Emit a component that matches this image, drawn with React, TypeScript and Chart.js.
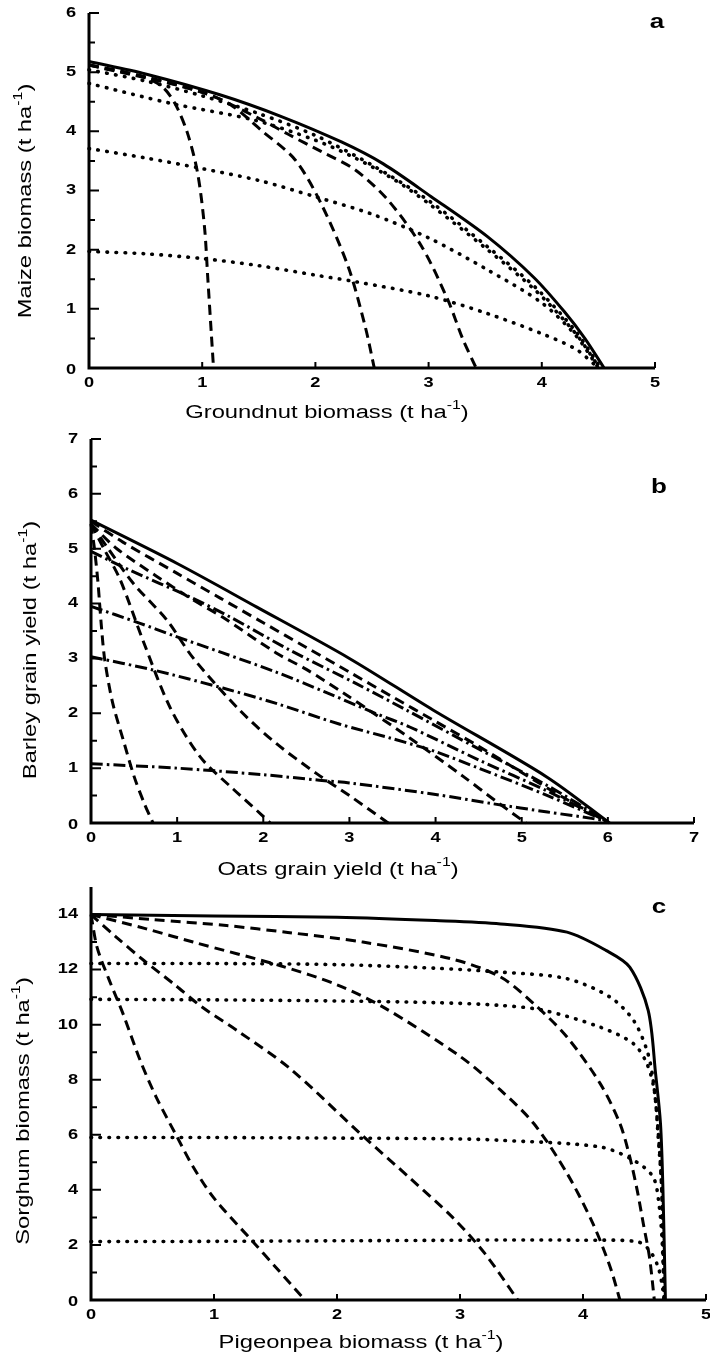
import React, { useEffect, useRef } from "react";
import { Chart, registerables } from "chart.js";

Chart.register(...registerables);

// ---------------- Panel a : maize / groundnut ----------------
const aXTicks = [0, 1, 2, 3, 4, 5];
const aYTicks = [0, 1, 2, 3, 4, 5, 6];
const aYMinor = [0.5, 1.5, 2.5, 3.5, 4.5, 5.5];
const aXTitle = ["Groundnut biomass (t ha", "-1", ")"];
const aYTitle = ["Maize biomass (t ha", "-1", ")"];
const aSolid = [[0, 5.18], [0.5, 4.97], [1.17, 4.61], [1.7, 4.25], [2.23, 3.82], [2.6, 3.45], [3.02, 2.9], [3.52, 2.22], [3.93, 1.53], [4.2, 0.95], [4.38, 0.5], [4.55, 0]];
const aDot1 = [[0, 5.04], [0.5, 4.85], [1.0, 4.6], [1.5, 4.3], [2.0, 3.93], [2.5, 3.43], [3.0, 2.83], [3.52, 2.05], [3.95, 1.35], [4.3, 0.62], [4.52, 0]];
const aDot2 = [[0, 4.81], [0.73, 4.47], [1.46, 4.19], [2.0, 3.85], [2.35, 3.55], [2.7, 3.18], [3.0, 2.78], [3.52, 2.0], [3.95, 1.3], [4.3, 0.58], [4.51, 0]];
const aDot3 = [[0, 3.71], [0.5, 3.55], [1.0, 3.37], [1.5, 3.17], [1.99, 2.9], [2.5, 2.6], [3.0, 2.2], [3.52, 1.66], [4.0, 1.1], [4.3, 0.55], [4.5, 0]];
const aDot4 = [[0, 1.97], [0.5, 1.93], [1.0, 1.85], [1.5, 1.73], [2.0, 1.57], [2.35, 1.46], [3.0, 1.22], [3.52, 0.92], [4.0, 0.58], [4.3, 0.32], [4.5, 0]];
const aDash1 = [[0, 5.12], [0.3, 5.01], [0.5, 4.91], [0.65, 4.75], [0.76, 4.47], [0.87, 3.97], [0.96, 3.29], [1.02, 2.39], [1.05, 1.5], [1.08, 0.6], [1.1, 0]];
const aDash2 = [[0, 5.12], [0.5, 4.92], [1.0, 4.66], [1.25, 4.45], [1.52, 4.02], [1.82, 3.52], [2.05, 2.78], [2.29, 1.71], [2.44, 0.7], [2.52, 0]];
const aDash3 = [[0, 5.12], [1.0, 4.66], [1.5, 4.22], [1.76, 3.95], [2.05, 3.66], [2.35, 3.35], [2.64, 2.84], [2.94, 2.05], [3.17, 1.15], [3.3, 0.5], [3.42, 0]];

// ---------------- Panel b : barley / oats ----------------
const bXTicks = [0, 1, 2, 3, 4, 5, 6, 7];
const bYTicks = [0, 1, 2, 3, 4, 5, 6, 7];
const bYMinor = [0.5, 1.5, 2.5, 3.5, 4.5, 5.5, 6.5];
const bXTitle = ["Oats grain yield (t ha", "-1", ")"];
const bYTitle = ["Barley grain yield (t ha", "-1", ")"];
const bSolid = [[0, 5.52], [1, 4.73], [1.92, 3.94], [3, 3.0], [3.97, 2.06], [5.29, 0.84], [6.02, 0]];
const bDashDot1 = [[0, 4.95], [0.45, 4.61], [1.15, 4.12], [1.61, 3.76], [2.31, 3.15], [3.08, 2.54], [3.66, 2.06], [4.5, 1.35], [5.3, 0.68], [6.0, 0.02]];
const bDashDot2 = [[0, 3.95], [0.57, 3.64], [0.95, 3.42], [1.53, 3.1], [2.15, 2.75], [2.7, 2.4], [3.3, 2.0], [3.7, 1.75], [4.5, 1.15], [5.3, 0.58], [6.0, 0.02]];
const bDashDot3 = [[0, 3.03], [0.72, 2.79], [1.53, 2.46], [2.15, 2.18], [2.89, 1.8], [3.47, 1.55], [4.0, 1.3], [4.5, 1.0], [5.3, 0.5], [6.0, 0.02]];
const bDashDot4 = [[0, 1.08], [1, 1.0], [2, 0.88], [2.65, 0.78], [3, 0.73], [4, 0.52], [4.67, 0.35], [5.3, 0.2], [5.83, 0.08], [6.0, 0.02]];
const bDash1 = [[0, 5.45], [0.04, 5.0], [0.08, 4.4], [0.12, 3.6], [0.16, 2.97], [0.25, 2.2], [0.375, 1.51], [0.5, 0.85], [0.62, 0.35], [0.72, 0]];
const bDash2 = [[0, 5.45], [0.15, 5.0], [0.34, 4.43], [0.61, 3.3], [0.92, 2.1], [1.27, 1.2], [1.65, 0.62], [1.98, 0.15], [2.08, 0]];
const bDash3 = [[0, 5.45], [0.2, 5.0], [0.49, 4.37], [0.88, 3.7], [1.19, 3.0], [1.73, 2.05], [2.15, 1.45], [2.62, 0.9], [3.0, 0.5], [3.45, 0]];
const bDash4 = [[0, 5.45], [0.3, 5.0], [0.76, 4.5], [1.15, 4.1], [1.53, 3.75], [2.15, 3.1], [2.5, 2.8], [2.93, 2.37], [3.28, 2.0], [3.7, 1.55], [4.32, 0.85], [4.7, 0.4], [5.05, 0]];
const bDash5 = [[0, 5.5], [0.37, 5.12], [1.0, 4.55], [1.5, 4.1], [2.0, 3.65], [2.5, 3.2], [3.0, 2.75], [3.5, 2.3], [4.0, 1.85], [4.5, 1.4], [5.0, 0.92], [5.5, 0.45], [6.0, 0.02]];

// ---------------- Panel c : sorghum / pigeonpea ----------------
const cXTicks = [0, 1, 2, 3, 4, 5];
const cYTicks = [0, 2, 4, 6, 8, 10, 12, 14];
const cYMinor = [1, 3, 5, 7, 9, 11, 13];
const cXTitle = ["Pigeonpea biomass (t ha", "-1", ")"];
const cYTitle = ["Sorghum biomass (t ha", "-1", ")"];
const cSolid = [[0, 14.0], [1, 13.95], [2, 13.9], [2.8, 13.78], [3.33, 13.66], [3.87, 13.36], [4.19, 12.69], [4.38, 12.09], [4.53, 10.52], [4.59, 8.23], [4.63, 6.41], [4.65, 4.0], [4.67, 0]];
const cDot1 = [[0, 12.22], [1, 12.22], [2, 12.18], [2.8, 12.05], [3.33, 11.91], [3.87, 11.67], [4.22, 11.0], [4.41, 10.16], [4.52, 9.07], [4.57, 8.0], [4.61, 6.2], [4.64, 4.0], [4.66, 0]];
const cDot2 = [[0, 10.92], [1, 10.9], [2, 10.86], [2.8, 10.8], [3.33, 10.7], [3.68, 10.52], [4.14, 9.91], [4.41, 9.31], [4.52, 8.58], [4.58, 7.6], [4.61, 6.0], [4.64, 4.0], [4.66, 0]];
const cDot3 = [[0, 5.9], [1, 5.9], [2, 5.88], [3, 5.85], [3.33, 5.8], [4.14, 5.56], [4.41, 5.08], [4.57, 4.47], [4.62, 3.4], [4.645, 2.0], [4.66, 0]];
const cDot4 = [[0, 2.12], [1, 2.13], [2, 2.15], [3, 2.17], [3.33, 2.18], [4.0, 2.17], [4.44, 2.12], [4.54, 1.81], [4.61, 1.21], [4.645, 0.5], [4.66, 0]];
const cDash1 = [[0, 14], [0.05, 12.8], [0.15, 11.6], [0.26, 10.4], [0.4, 8.7], [0.53, 7.37], [0.7, 5.92], [0.83, 4.84], [1.0, 3.7], [1.32, 2.1], [1.5, 1.2], [1.74, 0]];
const cDash2 = [[0, 14], [0.2, 13.2], [0.43, 12.33], [0.67, 11.49], [0.9, 10.65], [1.2, 9.75], [1.62, 8.4], [2.2, 6.0], [2.6, 4.4], [2.94, 3.0], [3.2, 1.7], [3.47, 0]];
const cDash3 = [[0, 14], [0.45, 13.48], [0.83, 13.0], [1.54, 12.14], [2.0, 11.45], [2.39, 10.6], [3.0, 8.85], [3.33, 7.62], [3.6, 6.41], [3.87, 4.6], [4.08, 2.78], [4.22, 1.21], [4.3, 0]];
const cDash4 = [[0, 14], [0.5, 13.82], [1.1, 13.6], [1.6, 13.35], [2.21, 13.0], [2.94, 12.38], [3.33, 11.73], [3.6, 10.76], [3.87, 9.55], [4.14, 7.86], [4.3, 6.41], [4.38, 5.2], [4.44, 4.0], [4.49, 2.78], [4.54, 1.57], [4.58, 0]];

type Style = "solid" | "dash" | "dot" | "dashdot";
type Series = { pts: number[][]; style: Style };

type PanelCfg = {
  letter: string;
  top: number;
  h: number;
  pad: { left: number; right: number; top: number; bottom: number };
  xMax: number;
  yMax: number;
  xTicks: number[];
  yTicks: number[];
  yMinor: number[];
  xTitle: string[];
  yTitle: string[];
  xTitlePos: [number, number];
  yTitlePos: [number, number];
  letterPos: [number, number];
  series: Series[];
};

const panels: PanelCfg[] = [
  {
    letter: "a",
    top: 0,
    h: 430,
    pad: { left: 89, right: 55, top: 13, bottom: 62 },
    xMax: 5,
    yMax: 6,
    xTicks: aXTicks,
    yTicks: aYTicks,
    yMinor: aYMinor,
    xTitle: aXTitle,
    yTitle: aYTitle,
    xTitlePos: [327, 413],
    yTitlePos: [26, 201],
    letterPos: [657, 22],
    series: [
      { pts: aSolid, style: "solid" },
      { pts: aDot1, style: "dot" },
      { pts: aDot2, style: "dot" },
      { pts: aDot3, style: "dot" },
      { pts: aDot4, style: "dot" },
      { pts: aDash1, style: "dash" },
      { pts: aDash2, style: "dash" },
      { pts: aDash3, style: "dash" },
    ],
  },
  {
    letter: "b",
    top: 430,
    h: 450,
    pad: { left: 91, right: 16, top: 9, bottom: 57 },
    xMax: 7,
    yMax: 7,
    xTicks: bXTicks,
    yTicks: bYTicks,
    yMinor: bYMinor,
    xTitle: bXTitle,
    yTitle: bYTitle,
    xTitlePos: [338, 440],
    yTitlePos: [31, 220],
    letterPos: [659, 57],
    series: [
      { pts: bSolid, style: "solid" },
      { pts: bDashDot1, style: "dashdot" },
      { pts: bDashDot2, style: "dashdot" },
      { pts: bDashDot3, style: "dashdot" },
      { pts: bDashDot4, style: "dashdot" },
      { pts: bDash1, style: "dash" },
      { pts: bDash2, style: "dash" },
      { pts: bDash3, style: "dash" },
      { pts: bDash4, style: "dash" },
      { pts: bDash5, style: "dash" },
    ],
  },
  {
    letter: "c",
    top: 880,
    h: 481,
    pad: { left: 91, right: 4, top: 7, bottom: 61 },
    xMax: 5,
    yMax: 15,
    xTicks: cXTicks,
    yTicks: cYTicks,
    yMinor: cYMinor,
    xTitle: cXTitle,
    yTitle: cYTitle,
    xTitlePos: [361, 463],
    yTitlePos: [24, 231],
    letterPos: [659, 27],
    series: [
      { pts: cSolid, style: "solid" },
      { pts: cDot1, style: "dot" },
      { pts: cDot2, style: "dot" },
      { pts: cDot3, style: "dot" },
      { pts: cDot4, style: "dot" },
      { pts: cDash1, style: "dash" },
      { pts: cDash2, style: "dash" },
      { pts: cDash3, style: "dash" },
      { pts: cDash4, style: "dash" },
    ],
  },
];

const FONT = '"Liberation Sans", Arial, Helvetica, sans-serif';
const STRETCH = 1.3;

function styleProps(style: Style) {
  switch (style) {
    case "solid":
      return { borderDash: [] as number[], borderWidth: 3, borderCapStyle: "butt" as const };
    case "dash":
      return { borderDash: [10, 6], borderWidth: 3, borderCapStyle: "butt" as const };
    case "dot":
      return { borderDash: [0.6, 8.4], borderWidth: 3.6, borderCapStyle: "round" as const };
    default:
      return { borderDash: [12, 4, 2.5, 4], borderWidth: 3, borderCapStyle: "butt" as const };
  }
}

type Seg = { t: string; font: string; dy: number };

function drawSegs(
  ctx: CanvasRenderingContext2D,
  segs: Seg[],
  x: number,
  y: number,
  align: "left" | "center" | "right",
  rot: number,
  sx: number
) {
  ctx.save();
  ctx.translate(x, y);
  ctx.rotate(rot);
  ctx.scale(sx, 1);
  let total = 0;
  const widths = segs.map((s) => {
    ctx.font = s.font;
    const w = ctx.measureText(s.t).width;
    total += w;
    return w;
  });
  let cur = align === "center" ? -total / 2 : align === "right" ? -total : 0;
  ctx.textBaseline = "middle";
  ctx.textAlign = "left";
  ctx.fillStyle = "#000";
  segs.forEach((s, i) => {
    ctx.font = s.font;
    ctx.fillText(s.t, cur, s.dy);
    cur += widths[i];
  });
  ctx.restore();
}

function titleSegs(parts: string[]): Seg[] {
  return [
    { t: parts[0], font: `18px ${FONT}`, dy: 0 },
    { t: parts[1], font: `12px ${FONT}`, dy: -7 },
    { t: parts[2], font: `18px ${FONT}`, dy: 0 },
  ];
}

function makeDecor(cfg: PanelCfg) {
  return {
    id: "decor" + cfg.letter,
    afterDraw(chart: any) {
      const ctx: CanvasRenderingContext2D = chart.ctx;
      const xs = chart.scales.x;
      const ys = chart.scales.y;
      const x0 = xs.getPixelForValue(0);
      const xEnd = chart.chartArea.right;
      const y0 = ys.getPixelForValue(0);
      const yTop = ys.getPixelForValue(cfg.yMax);
      ctx.save();
      ctx.strokeStyle = "#000";
      ctx.lineCap = "butt";
      ctx.lineWidth = 3;
      ctx.beginPath();
      ctx.moveTo(x0, yTop);
      ctx.lineTo(x0, y0 + 1.5);
      ctx.moveTo(x0 - 1.5, y0);
      ctx.lineTo(xEnd, y0);
      ctx.stroke();
      ctx.lineWidth = 2;
      ctx.beginPath();
      cfg.yTicks.forEach((v) => {
        if (v === 0) return;
        const py = ys.getPixelForValue(v);
        ctx.moveTo(x0, py);
        ctx.lineTo(x0 + 10, py);
      });
      cfg.yMinor.forEach((v) => {
        const py = ys.getPixelForValue(v);
        ctx.moveTo(x0, py);
        ctx.lineTo(x0 + 6, py);
      });
      cfg.xTicks.forEach((v) => {
        if (v === 0) return;
        const px = xs.getPixelForValue(v);
        ctx.moveTo(px, y0);
        ctx.lineTo(px, y0 - 6);
      });
      ctx.stroke();
      ctx.restore();

      const tickFont = `bold 14px ${FONT}`;
      cfg.yTicks.forEach((v) => {
        const py = ys.getPixelForValue(v);
        drawSegs(ctx, [{ t: String(v), font: tickFont, dy: 0 }], x0 - 13, py + (v === 0 ? 2 : 0), "right", 0, STRETCH);
      });
      cfg.xTicks.forEach((v) => {
        const px = xs.getPixelForValue(v);
        drawSegs(ctx, [{ t: String(v), font: tickFont, dy: 0 }], px, y0 + 15, "center", 0, STRETCH);
      });

      drawSegs(ctx, titleSegs(cfg.xTitle), cfg.xTitlePos[0], cfg.xTitlePos[1], "center", 0, 1.32);
      drawSegs(ctx, titleSegs(cfg.yTitle), cfg.yTitlePos[0], cfg.yTitlePos[1], "center", -Math.PI / 2, 1.32);

      drawSegs(ctx, [{ t: cfg.letter, font: `bold 20px ${FONT}`, dy: 0 }], cfg.letterPos[0], cfg.letterPos[1], "center", 0, STRETCH);
    },
  };
}

function Panel({ cfg }: { cfg: PanelCfg }) {
  const ref = useRef<HTMLCanvasElement>(null);
  useEffect(() => {
    const canvas = ref.current;
    if (!canvas) return;
    const chart = new Chart(canvas, {
      type: "scatter",
      data: {
        datasets: cfg.series.map((s) => ({
          data: s.pts.map(([x, y]) => ({ x, y })),
          showLine: true,
          fill: false,
          borderColor: "#000",
          backgroundColor: "#000",
          pointRadius: 0,
          pointHoverRadius: 0,
          tension: 0.3,
          borderJoinStyle: "round" as const,
          clip: 6,
          ...styleProps(s.style),
        })),
      },
      options: {
        responsive: false,
        maintainAspectRatio: false,
        animation: false,
        events: [],
        layout: { padding: cfg.pad },
        plugins: { legend: { display: false }, tooltip: { enabled: false }, title: { display: false } },
        scales: {
          x: {
            type: "linear",
            min: 0,
            max: cfg.xMax,
            ticks: { display: false },
            grid: { display: false, drawTicks: false },
            border: { display: false },
            title: { display: false },
            afterFit: (s: any) => {
              s.height = 0;
            },
          },
          y: {
            type: "linear",
            min: 0,
            max: cfg.yMax,
            ticks: { display: false },
            grid: { display: false, drawTicks: false },
            border: { display: false },
            title: { display: false },
            afterFit: (s: any) => {
              s.width = 0;
            },
          },
        },
      },
      plugins: [makeDecor(cfg)],
    } as any);
    return () => chart.destroy();
  }, [cfg]);
  return (
    <canvas
      ref={ref}
      width={710}
      height={cfg.h}
      style={{ position: "absolute", left: 0, top: cfg.top, width: 710, height: cfg.h, display: "block" }}
    />
  );
}

export default function App() {
  return (
    <div style={{ position: "absolute", left: 0, top: 0, width: 710, height: 1361, background: "#fff" }}>
      {panels.map((p) => (
        <Panel key={p.letter} cfg={p} />
      ))}
    </div>
  );
}
